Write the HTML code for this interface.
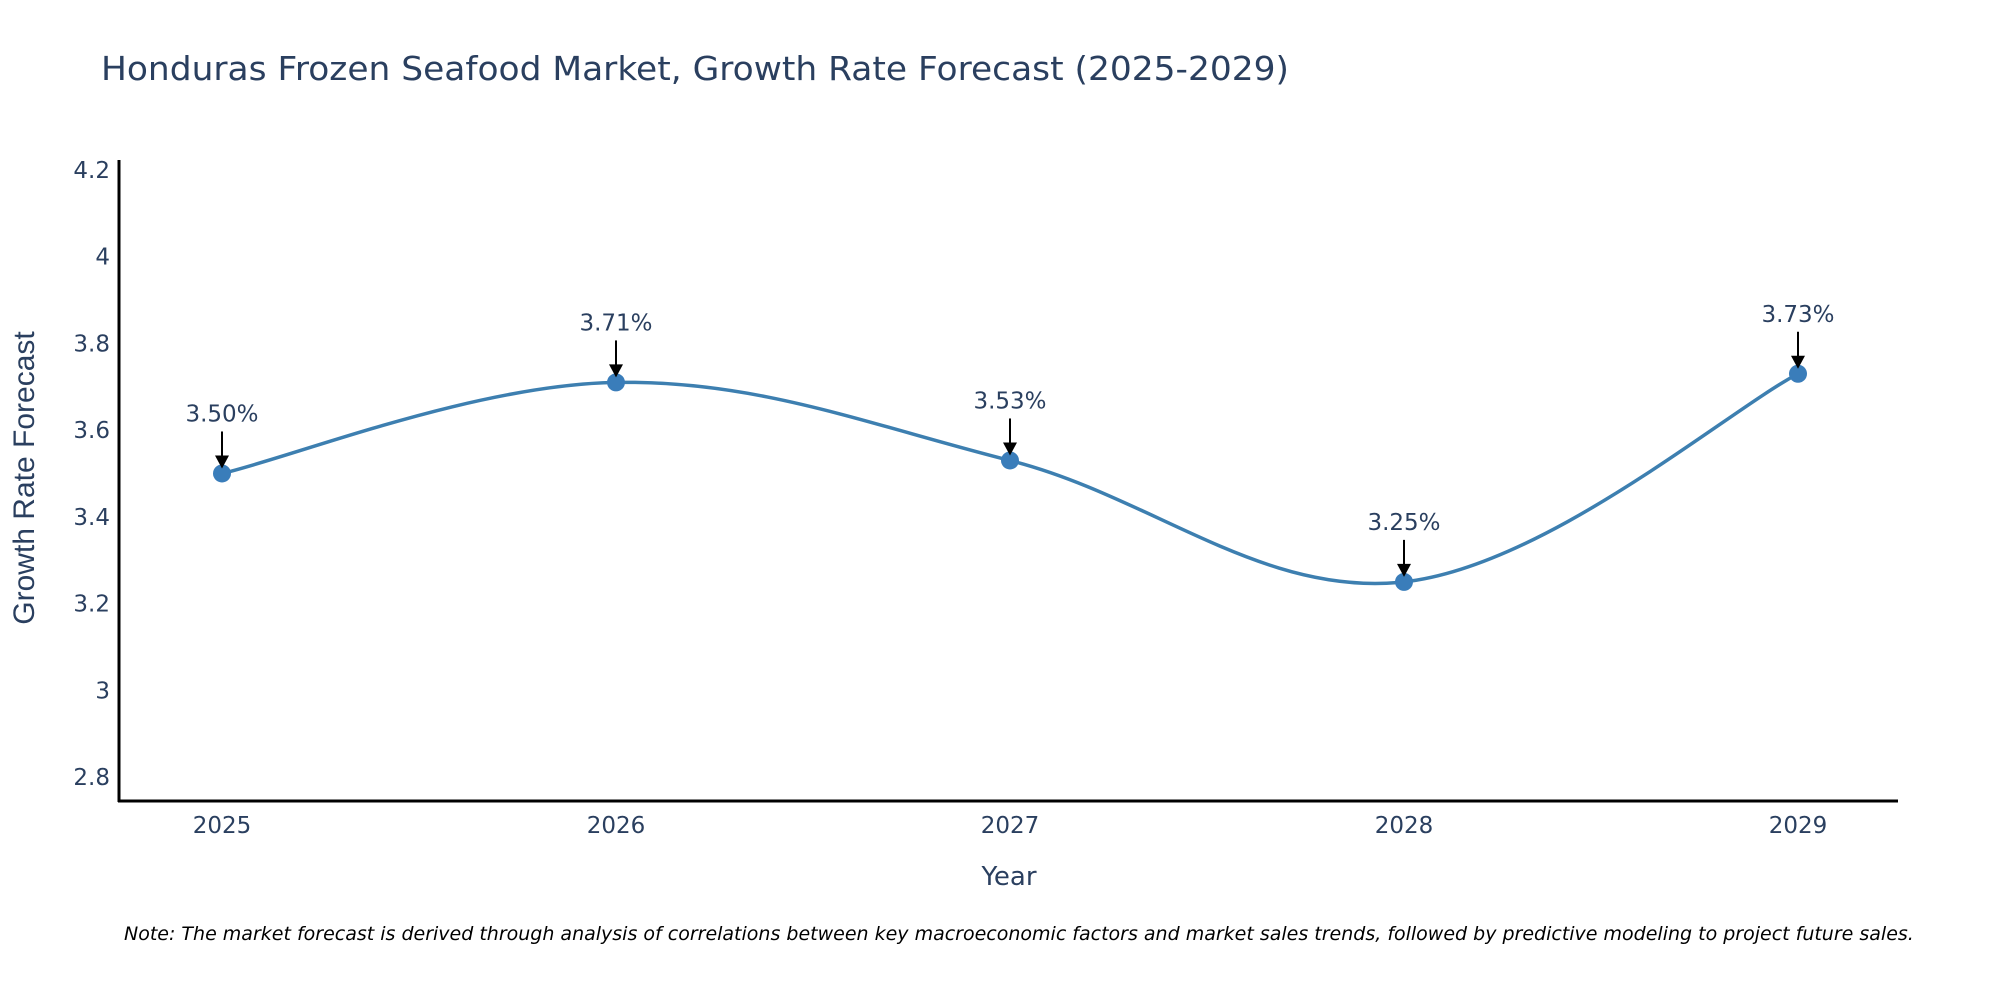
<!DOCTYPE html>
<html><head><meta charset="utf-8"><style>
html,body{margin:0;padding:0;background:#fff;}
svg{display:block;font-family:"DejaVu Sans","Liberation Sans",sans-serif;}
</style></head><body>
<svg id="chart" width="2000" height="1000" viewBox="0 0 2000 1000">
<text x="101" y="80" font-size="33" fill="#2a3f5f" textLength="1188" lengthAdjust="spacingAndGlyphs">Honduras Frozen Seafood Market, Growth Rate Forecast (2025-2029)</text>
<g id="yticks"></g>
<g id="xticks"></g>
<line x1="119" y1="160" x2="119" y2="802" stroke="#000" stroke-width="3"/>
<line x1="118" y1="801" x2="1898" y2="801" stroke="#000" stroke-width="3"/>
<g id="series"></g>
<text x="34" y="478" font-size="30" fill="#2a3f5f" text-anchor="middle" transform="rotate(-90 34 478)" style="font-family:'Liberation Sans',sans-serif">Growth Rate Forecast</text>
<text x="1009" y="885" font-size="26" fill="#2a3f5f" text-anchor="middle">Year</text>
<text x="124" y="940" font-size="19" font-style="italic" fill="#000">Note: The market forecast is derived through analysis of correlations between key macroeconomic factors and market sales trends, followed by predictive modeling to project future sales.</text>
</svg>
<script>
const years = ["2025","2026","2027","2028","2029"];
const values = [3.50, 3.71, 3.53, 3.25, 3.73];
const labels = ["3.50%","3.71%","3.53%","3.25%","3.73%"];
const yTicks = [2.8, 3, 3.2, 3.4, 3.6, 3.8, 4, 4.2];
const yTickLabels = ["2.8","3","3.2","3.4","3.6","3.8","4","4.2"];

const NS = "http://www.w3.org/2000/svg";
function xs(i){ return 222 + i * 394; }
function ys(v){ return 777 - (v - 2.8) * 433.6; }
function mk(tag, attrs, parent){ const e = document.createElementNS(NS, tag); for (const k in attrs) e.setAttribute(k, attrs[k]); parent.appendChild(e); return e; }

const yg = document.getElementById('yticks');
yTicks.forEach((t, i) => {
  const el = mk('text', {x: 110, y: ys(t) + 8, 'font-size': 23, fill: '#2a3f5f', 'text-anchor': 'end'}, yg);
  el.textContent = yTickLabels[i];
  
  
});
const xg = document.getElementById('xticks');
years.forEach((y, i) => {
  const el = mk('text', {x: xs(i), y: 833, 'font-size': 23, fill: '#2a3f5f', 'text-anchor': 'middle'}, xg);
  el.textContent = y;
  
  
});

const sg = document.getElementById('series');
const pts = values.map((v, i) => [xs(i), ys(v)]);
let d = `M${pts[0][0]},${pts[0][1]}`;
const t = 0.18;
for (let i = 0; i < pts.length - 1; i++) {
  const p0 = pts[Math.max(i - 1, 0)], p1 = pts[i], p2 = pts[i + 1], p3 = pts[Math.min(i + 2, pts.length - 1)];
  const c1 = [p1[0] + (p2[0] - p0[0]) * t, p1[1] + (p2[1] - p0[1]) * t];
  const c2 = [p2[0] - (p3[0] - p1[0]) * t, p2[1] - (p3[1] - p1[1]) * t];
  d += ` C${c1[0]},${c1[1]} ${c2[0]},${c2[1]} ${p2[0]},${p2[1]}`;
}
const line = mk('path', {d: d, fill: 'none', stroke: '#3d7fb0', 'stroke-width': 3.5}, sg);



pts.forEach((p, i) => {
  const c = mk('circle', {cx: p[0], cy: p[1], r: 9, fill: '#3a7dba'}, sg);
  
  
  const a = mk('line', {x1: p[0], y1: p[1] - 42, x2: p[0], y2: p[1] - 16, stroke: '#000', 'stroke-width': 2}, sg);
  
  
  const h = mk('path', {d: `M${p[0]-7},${p[1]-18} L${p[0]+7},${p[1]-18} L${p[0]},${p[1]-5} Z`, fill: '#000'}, sg);
  
  
  const tx = mk('text', {x: p[0], y: p[1] - 52, 'font-size': 23, fill: '#2a3f5f', 'text-anchor': 'middle'}, sg);
  tx.textContent = labels[i];
  
  
});
</script>
</body></html>
